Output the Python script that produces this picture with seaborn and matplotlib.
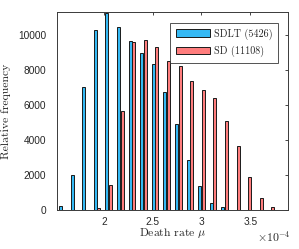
import numpy as np
import pandas as pd
import seaborn as sns
import matplotlib
matplotlib.use("Agg")
import matplotlib.pyplot as plt
from matplotlib.ticker import FuncFormatter

# bin centres (x 1e-4)
bin_centres = [1.574, 1.693, 1.812, 1.931, 2.049, 2.168, 2.287, 2.406, 2.525, 2.644,
               2.762, 2.881, 3.000, 3.119, 3.238, 3.357, 3.475, 3.594, 3.713]
sdlt_freq = [250, 2000, 7050, 10300, 11250, 10450, 9700, 9000, 8330, 6750,
             4950, 2900, 1400, 450, 200, 30, 0, 0, 0]
sd_freq = [0, 0, 0, 120, 1450, 5650, 9600, 9750, 9330, 8550,
           8250, 7400, 6900, 6400, 5100, 3700, 1900, 700, 180]
series_names = ['SDLT (5426)', 'SD (11108)']
colours = ['#35b9f4', '#ff7d7d']

x_vals = np.array(bin_centres) * 1e-4
df = pd.DataFrame({
    'rate': np.concatenate([x_vals, x_vals]),
    'freq': sdlt_freq + sd_freq,
    'method': [series_names[0]] * len(x_vals) + [series_names[1]] * len(x_vals),
})

sns.set_style('white')
plt.rcParams['font.family'] = ['Liberation Sans', 'DejaVu Sans']
plt.rcParams['mathtext.fontset'] = 'cm'

fig = plt.figure(figsize=(2.99, 2.49), dpi=100)
ax = fig.add_axes([0.19, 0.155, 0.773, 0.797])

sns.barplot(data=df, x='rate', y='freq', hue='method', hue_order=series_names,
            palette=colours, native_scale=True, width=0.62, gap=0.16,
            edgecolor='#1a1a1a', linewidth=0.7, saturation=1, ax=ax)

ax.set_xlim(1.517e-4, 3.887e-4)
ax.set_ylim(0, 11330)
ax.set_xticks([2e-4, 2.5e-4, 3e-4, 3.5e-4])
ax.set_yticks([0, 2000, 4000, 6000, 8000, 10000])
ax.xaxis.set_major_formatter(FuncFormatter(lambda v, p: '%g' % round(v * 1e4, 3)))
# exponent label, MATLAB style
ax.text(1.012, -0.135, r'$\times\mathsf{10}^{\mathsf{-4}}$', transform=ax.transAxes,
        ha='right', va='center', fontsize=8.5, color='#262626')

ax.tick_params(direction='in', length=2.5, width=0.6, top=True, right=True,
               labelsize=7.3, colors='#262626')
ax.tick_params(axis='y', pad=7.5)
ax.tick_params(axis='x', pad=5)
for s in ax.spines.values():
    s.set_color('#3a3a3a')
    s.set_linewidth(0.7)

lab_font = {'family': 'cmr10', 'size': 8.4}
ax.set_xlabel(r'Death rate $\mu$', fontdict=lab_font, labelpad=-1)
ax.set_ylabel('Relative frequency', fontdict=lab_font, labelpad=5)

handles, labels = ax.get_legend_handles_labels()
leg = ax.legend(handles, labels, loc='upper right', bbox_to_anchor=(0.957, 0.945),
                prop={'family': 'cmr10', 'size': 7.3}, frameon=True, fancybox=False,
                edgecolor='#262626', handlelength=3.4, handleheight=0.8,
                handletextpad=0.35, labelspacing=0.6, borderpad=0.55,
                borderaxespad=0)
leg.get_frame().set_linewidth(0.7)

plt.savefig('out.png', dpi=100)
